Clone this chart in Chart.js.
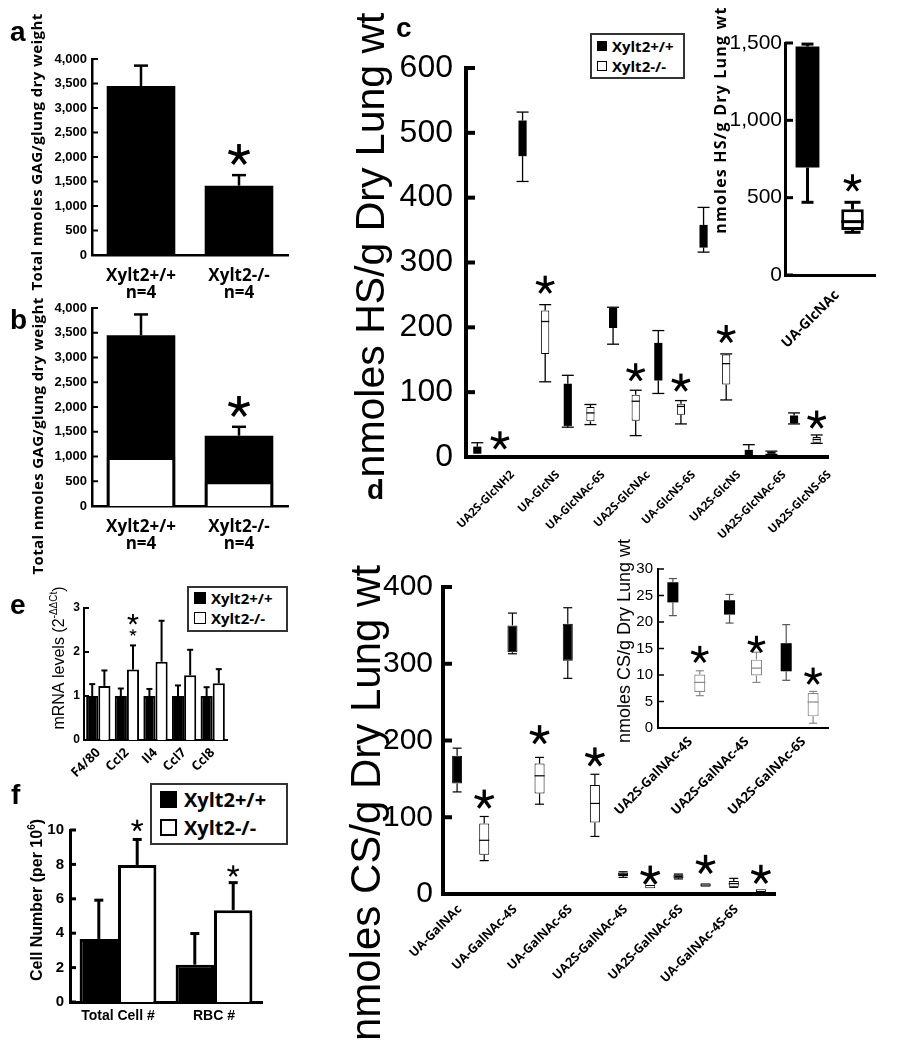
<!DOCTYPE html>
<html>
<head>
<meta charset="utf-8">
<script src="https://cdn.jsdelivr.net/npm/chart.js@4.4.1/dist/chart.umd.min.js"></script>
<style>
  body { margin: 0; background: #fff; }
  #page { position: relative; width: 921px; height: 1050px; overflow: hidden; background: #fff; }
  #page canvas { position: absolute; left: 0; top: 0; }
  .letter { position: absolute; font: bold 28px 'Liberation Sans', Arial, sans-serif; line-height: 28px; z-index: 5; }
  .legend { position: absolute; box-sizing: border-box; border: 2px solid #333; background: #fff;
            font-family: 'Open Sans', sans-serif; font-weight: 700; z-index: 5; }
  .legend .row { display: flex; align-items: center; white-space: nowrap; }
  .legend .sw { display: inline-block; box-sizing: border-box; border: 1.5px solid #000; background: #fff; }
</style>
</head>
<body>
<div id="page">
  <div class="letter" style="left:10px;top:18px;">a</div>
  <div class="letter" style="left:10px;top:306px;">b</div>
  <div class="letter" style="left:396px;top:14px;">c</div>
  <div class="letter" style="left:367px;top:476px;">d</div>
  <div class="letter" style="left:10px;top:591px;">e</div>
  <div class="letter" style="left:11px;top:781px;">f</div>

  <div class="legend" style="left:590px;top:33px;width:95px;height:46px;font-size:15px;padding-top:1px;">
    <div class="row" style="height:20px;"><span class="sw" style="width:10px;height:10px;margin:0 5px 0 5px;background:#000;"></span>Xylt2+/+</div>
    <div class="row" style="height:20px;"><span class="sw" style="width:10px;height:10px;margin:0 5px 0 5px;"></span>Xylt2-/-</div>
  </div>
  <div class="legend" style="left:187px;top:586px;width:101px;height:46px;font-size:15px;">
    <div class="row" style="height:20px;"><span class="sw" style="width:12px;height:12px;margin:0 5px 0 5px;background:#000;"></span>Xylt2+/+</div>
    <div class="row" style="height:20px;"><span class="sw" style="width:12px;height:12px;margin:0 5px 0 5px;"></span>Xylt2-/-</div>
  </div>
  <div class="legend" style="left:150px;top:783px;width:138px;height:62px;font-size:20px;">
    <div class="row" style="height:28px;"><span class="sw" style="width:17px;height:17px;margin:0 7px 0 8px;background:#000;border-width:2px;"></span>Xylt2+/+</div>
    <div class="row" style="height:28px;"><span class="sw" style="width:17px;height:17px;margin:0 7px 0 8px;border-width:2px;"></span>Xylt2-/-</div>
  </div>
</div>

<script>
// ---- datos ----

// a y b: GAG total
const GENOTYPE_LABELS = [['Xylt2+/+', 'n=4'], ['Xylt2-/-', 'n=4']];
const GAG_TICKS = [0, 500, 1000, 1500, 2000, 2500, 3000, 3500, 4000];
const GAG_TOTAL_A = [3450, 1415];
const GAG_ERR_A = [3865, 1630];
const GAG_STAR_A = [null, 2040];
const GAG_TOTAL_B = [3450, 1420];
const GAG_ERR_B = [3870, 1600];
const GAG_WHITE_B = [990, 500];
const GAG_STAR_B = [null, 2000];

// c: HS disacaridos
const HS_CATS = ['UA2S-GlcNH2', 'UA-GlcNS', 'UA-GlcNAc-6S', 'UA2S-GlcNAc', 'UA-GlcNS-6S', 'UA2S-GlcNS', 'UA2S-GlcNAc-6S', 'UA2S-GlcNS-6S'];
const HS_TICKS = [0, 100, 200, 300, 400, 500, 600];
const HS_WT_BOX = [[5, 16], [464, 519], [48, 113], [199, 230], [118, 176], [323, 358], [0, 11], [52, 64]];
const HS_WT_WHISK = [[5, 22], [425, 532], [46, 126], [174, 231], [98, 195], [316, 385], [0, 19], [51, 68]];
const HS_KO_BOX = [null, [159, 226], [55, 77], [56, 96], [65, 82], [112, 158], [5, 8], [22, 31]];
const HS_KO_MED = [null, 209, 68, 86, 78, 144, 6.5, 27];
const HS_KO_WHISK = [null, [116, 235], [50, 81], [33, 103], [51, 87], [88, 159], [4, 9], [21, 34]];
const HS_KO_STAR = [25, 265, null, 130, 114, 189, null, 57];

// c (inserto): UA-GlcNAc
const HS_INSET_CATS = ['UA-GlcNAc'];
const HS_INSET_TICKS = [0, 500, 1000, 1500];
const HS_INSET_WT_BOX = [[695, 1478]];
const HS_INSET_WT_WHISK = [[470, 1493]];
const HS_INSET_KO_BOX = [[291, 425]];
const HS_INSET_KO_MED = [345];
const HS_INSET_KO_WHISK = [[276, 470]];
const HS_INSET_KO_STAR = [593];

// d: CS disacaridos
const CS_CATS = ['UA-GalNAc', 'UA-GalNAc-4S', 'UA-GalNAc-6S', 'UA2S-GalNAc-4S', 'UA2S-GalNAc-6S', 'UA-GalNAc-4S-6S'];
const CS_TICKS = [0, 50, 100, 150, 200, 250, 300, 350, 400];
const CS_WT_BOX = [[144, 180], [315, 350], [304, 352], [23.5, 28], [20.5, 25.5], [9.6, 17]];
const CS_WT_MED = [null, null, null, null, null, 13.5];
const CS_WT_WHISK = [[133, 190], [313, 366], [281, 373], [21.7, 29], [19.6, 26], [8.7, 20.4]];
const CS_KO_BOX = [[51, 92], [131, 170], [93, 142], [7.4, 11.7], [9.6, 14], [2.6, 6.1]];
const CS_KO_MED = [70, 154, 118, null, 11.7, null];
const CS_KO_WHISK = [[43.5, 101], [117, 178], [75, 156], [7.4, 11.7], [9.6, 14], [2.6, 6.1]];
const CS_KO_STAR = [123, 207, 178, 24, 38, 25];

// d (inserto)
const CS_INSET_CATS = ['UA2S-GalNAc-4S', 'UA2S-GalNAc-4S', 'UA2S-GalNAc-6S'];
const CS_INSET_TICKS = [0, 5, 10, 15, 20, 25, 30];
const CS_INSET_WT_BOX = [[23.7, 27.5], [21.4, 24.1], [10.7, 16]];
const CS_INSET_WT_WHISK = [[21.2, 28.2], [19.8, 25.2], [9, 19.5]];
const CS_INSET_KO_BOX = [[6.8, 10.1], [9.9, 12.9], [2.2, 6.6]];
const CS_INSET_KO_MED = [8.6, 11.3, 4.9];
const CS_INSET_KO_WHISK = [[6.1, 10.8], [8.6, 14.3], [0.9, 6.9]];
const CS_INSET_KO_STAR = [13.8, 15.7, 9.7];

// e: mRNA
const MRNA_GENES = ['F4/80', 'Ccl2', 'Il4', 'Ccl7', 'Ccl8'];
const MRNA_TICKS = [0, 1, 2, 3];
const MRNA_WT = [1, 1, 1, 1, 1];
const MRNA_WT_ERR = [1.27, 1.17, 1.16, 1.24, 1.2];
const MRNA_KO = [1.23, 1.6, 1.78, 1.47, 1.29];
const MRNA_KO_ERR = [1.58, 2.15, 2.71, 2.05, 1.61];
const MRNA_KO_STAR = [null, 2.74, null, null, null];
const MRNA_KO_STAR_SMALL = [null, 2.44, null, null, null];

// f: recuento celular
const CELL_CATS = ['Total Cell #', 'RBC #'];
const CELL_TICKS = [0, 2, 4, 6, 8, 10];
const CELL_WT = [3.67, 2.17];
const CELL_WT_ERR = [5.92, 3.98];
const CELL_KO = [7.97, 5.34];
const CELL_KO_ERR = [9.45, 6.94];
const CELL_KO_STAR = [10.25, 7.6];

// ---- configuracion general ----
const PAGE_W = 921;
const PAGE_H = 1050;

Chart.defaults.animation = false;
Chart.defaults.color = '#000';
Chart.defaults.font.family = "'Liberation Sans', Arial, sans-serif";
Chart.defaults.plugins.legend.display = false;
Chart.defaults.plugins.tooltip.enabled = false;
Chart.defaults.events = [];

// asterisco de significancia
function drawStar(ctx, x, y, size) {
    const r = size / 2;
    ctx.save();
    ctx.strokeStyle = '#000';
    ctx.lineWidth = Math.max(1.2, size * 0.17);
    for (let k = 0; k < 5; k++) {
        const a = -Math.PI / 2 + k * Math.PI * 2 / 5;
        ctx.beginPath();
        ctx.moveTo(x, y);
        ctx.lineTo(x + r * Math.cos(a), y + r * Math.sin(a));
        ctx.stroke();
    }
    ctx.restore();
}

// bigotes, medianas, barras de error y asteriscos
const marksPlugin = {
    id: 'marks',
    afterDatasetsDraw(chart) {
        const ctx = chart.ctx;
        const ys = chart.scales.y;
        const py = v => ys.getPixelForValue(v);
        chart.data.datasets.forEach((ds, i) => {
            const meta = chart.getDatasetMeta(i);
            meta.data.forEach((bar, j) => {
                const x = bar.x;
                const cap = ds.capWidth || 8;
                const box = ds.data[j];
                ctx.save();
                ctx.strokeStyle = ds.markColor || '#000';
                ctx.lineWidth = ds.markWidth || 1;
                const seg = (x1, y1, x2, y2) => {
                    ctx.beginPath();
                    ctx.moveTo(x1, y1);
                    ctx.lineTo(x2, y2);
                    ctx.stroke();
                };
                if (ds.whisk && ds.whisk[j] && box) {
                    const [lo, hi] = ds.whisk[j];
                    if (hi > box[1]) {
                        seg(x, py(box[1]), x, py(hi));
                        seg(x - cap / 2, py(hi), x + cap / 2, py(hi));
                    }
                    if (lo < box[0]) {
                        seg(x, py(box[0]), x, py(lo));
                        seg(x - cap / 2, py(lo), x + cap / 2, py(lo));
                    }
                }
                if (ds.median && ds.median[j] != null) {
                    const ym = py(ds.median[j]);
                    seg(x - bar.width / 2, ym, x + bar.width / 2, ym);
                }
                if (ds.err && ds.err[j] != null) {
                    seg(x, py(box), x, py(ds.err[j]));
                    seg(x - cap / 2, py(ds.err[j]), x + cap / 2, py(ds.err[j]));
                }
                ctx.restore();
                if (ds.stars && ds.stars[j] != null) drawStar(ctx, x, py(ds.stars[j]), ds.starSize || 16);
                if (ds.smallStars && ds.smallStars[j] != null) drawStar(ctx, x, py(ds.smallStars[j]), ds.smallStarSize || 8);
            });
        });
    }
};

// titulo vertical con partes (superindices)
const vtitlePlugin = {
    id: 'vtitle',
    afterDraw(chart, args, opts) {
        const parts = opts.parts;
        if (!parts) return;
        const ctx = chart.ctx;
        ctx.save();
        ctx.translate(opts.x, opts.y);
        ctx.rotate(-Math.PI / 2);
        ctx.fillStyle = '#000';
        ctx.textBaseline = 'alphabetic';
        ctx.textAlign = 'left';
        if (opts.spacing && 'letterSpacing' in ctx) ctx.letterSpacing = opts.spacing + 'px';
        const widths = parts.map(p => { ctx.font = p.f; return ctx.measureText(p.t).width; });
        let cx = -widths.reduce((s, w) => s + w, 0) / 2;
        parts.forEach((p, k) => {
            ctx.font = p.f;
            ctx.fillText(p.t, cx, p.dy || 0);
            cx += widths[k];
        });
        ctx.restore();
    }
};

// marcas de eje hacia adentro
const inticksPlugin = {
    id: 'inticks',
    afterDraw(chart, args, opts) {
        if (!opts.len) return;
        const ctx = chart.ctx;
        const ys = chart.scales.y;
        const x0 = chart.chartArea.left;
        ctx.save();
        ctx.strokeStyle = '#000';
        ctx.lineWidth = opts.width || 2;
        ys.ticks.forEach(t => {
            const p = ys.getPixelForValue(t.value);
            ctx.beginPath();
            ctx.moveTo(x0, p);
            ctx.lineTo(x0 + opts.len, p);
            ctx.stroke();
        });
        ctx.restore();
    }
};

Chart.register(marksPlugin, vtitlePlugin, inticksPlugin);

function addCanvas() {
    const c = document.createElement('canvas');
    c.width = PAGE_W;
    c.height = PAGE_H;
    document.getElementById('page').appendChild(c);
    return c;
}

// cada panel ocupa toda la pagina; el area del grafico se fija con padding y afterFit
function buildChart(o) {
    return new Chart(addCanvas(), {
        type: 'bar',
        data: { labels: o.labels, datasets: o.datasets },
        options: {
            responsive: false,
            locale: 'en-US',
            layout: { padding: { left: 0, top: o.rect.top, right: PAGE_W - o.rect.right, bottom: 0 } },
            scales: {
                x: {
                    offset: true,
                    grid: { display: false, drawTicks: false },
                    border: { display: true, color: '#000', width: o.axisWidth },
                    ticks: {
                        autoSkip: false,
                        minRotation: o.rot || 0,
                        maxRotation: o.rot || 0,
                        padding: o.xPad,
                        labelOffset: o.xShift || 0,
                        font: o.xFont,
                        color: '#000'
                    },
                    afterFit: s => { s.height = PAGE_H - o.rect.bottom; }
                },
                y: {
                    min: o.ticks[0],
                    max: o.ticks[o.ticks.length - 1],
                    grid: { display: false, drawTicks: false },
                    border: { display: true, color: '#000', width: o.axisWidth },
                    ticks: { padding: o.yPad, font: o.yFont, color: '#000' },
                    afterBuildTicks: s => { s.ticks = o.ticks.map(v => ({ value: v })); },
                    afterFit: s => { s.width = o.rect.left; }
                }
            },
            plugins: {
                vtitle: o.title,
                inticks: { len: o.tickLen, width: o.tickWidth }
            }
        }
    });
}

const MYRIAD = "'Open Sans', sans-serif";
const HELV = "'Liberation Sans', Arial, sans-serif";

// ---- panel a ----
buildChart({
    rect: { left: 92, right: 288, top: 59, bottom: 255 },
    labels: GENOTYPE_LABELS,
    ticks: GAG_TICKS,
    axisWidth: 2.5, tickLen: 6, tickWidth: 2,
    yPad: 5, yFont: { family: HELV, weight: 'bold', size: 13 },
    xPad: 13, xFont: { family: MYRIAD, weight: 'bold', size: 17, lineHeight: 1.0 },
    title: { x: 42, y: 152, spacing: 0.4, parts: [{ t: 'Total nmoles GAG/glung dry weight', f: "bold 15px 'Open Sans'" }] },
    datasets: [{
        data: GAG_TOTAL_A, backgroundColor: '#000', borderWidth: 0,
        categoryPercentage: 1, barPercentage: 0.7,
        err: GAG_ERR_A, capWidth: 14, markWidth: 2.5,
        stars: GAG_STAR_A, starSize: 22
    }]
});

// ---- panel b ----
buildChart({
    rect: { left: 92, right: 288, top: 308, bottom: 506 },
    labels: GENOTYPE_LABELS,
    ticks: GAG_TICKS,
    axisWidth: 2.5, tickLen: 6, tickWidth: 2,
    yPad: 5, yFont: { family: HELV, weight: 'bold', size: 13 },
    xPad: 13, xFont: { family: MYRIAD, weight: 'bold', size: 17, lineHeight: 1.0 },
    title: { x: 43, y: 436, spacing: 0.4, parts: [{ t: 'Total nmoles GAG/glung dry weight', f: "bold 15px 'Open Sans'" }] },
    datasets: [{
        data: GAG_WHITE_B, backgroundColor: '#fff', borderColor: '#000', borderWidth: 3,
        grouped: false, order: 0, categoryPercentage: 1, barPercentage: 0.7
    }, {
        data: GAG_TOTAL_B, backgroundColor: '#000', borderWidth: 0,
        grouped: false, order: 1, categoryPercentage: 1, barPercentage: 0.7,
        err: GAG_ERR_B, capWidth: 14, markWidth: 2.5,
        stars: GAG_STAR_B, starSize: 22
    }]
});

// ---- panel c ----
buildChart({
    rect: { left: 466, right: 828, top: 68, bottom: 457 },
    labels: HS_CATS,
    ticks: HS_TICKS,
    axisWidth: 4, tickLen: 9, tickWidth: 4,
    yPad: 13, yFont: { family: HELV, size: 32 },
    rot: 45, xPad: 11, xShift: 24, xFont: { family: MYRIAD, weight: 'bold', size: 11.5 },
    title: { x: 384, y: 245, parts: [{ t: 'nmoles HS/g Dry Lung wt', f: "41px 'Liberation Sans'" }] },
    datasets: [{
        data: HS_WT_BOX, backgroundColor: '#000', borderWidth: 0,
        categoryPercentage: 1, barPercentage: 0.36,
        whisk: HS_WT_WHISK, capWidth: 12, markWidth: 1.3
    }, {
        data: HS_KO_BOX, backgroundColor: '#fff', borderColor: '#000', borderWidth: 1, borderSkipped: false,
        categoryPercentage: 1, barPercentage: 0.36,
        median: HS_KO_MED, whisk: HS_KO_WHISK, capWidth: 12, markWidth: 1.3,
        stars: HS_KO_STAR, starSize: 19
    }]
});

// ---- panel c, inserto ----
buildChart({
    rect: { left: 785, right: 875, top: 43, bottom: 275 },
    labels: HS_INSET_CATS,
    ticks: HS_INSET_TICKS,
    axisWidth: 3, tickLen: 8, tickWidth: 3,
    yPad: 3, yFont: { family: HELV, size: 21 },
    rot: 45, xPad: 12, xShift: 7, xFont: { family: MYRIAD, weight: 'bold', size: 14 },
    title: { x: 726, y: 120, spacing: 1.2, parts: [{ t: 'nmoles HS/g Dry Lung wt', f: "bold 16px 'Open Sans'" }] },
    datasets: [{
        data: HS_INSET_WT_BOX, backgroundColor: '#000', borderWidth: 0,
        categoryPercentage: 1, barPercentage: 0.53,
        whisk: HS_INSET_WT_WHISK, capWidth: 12, markWidth: 3
    }, {
        data: HS_INSET_KO_BOX, backgroundColor: '#fff', borderColor: '#000', borderWidth: 3, borderSkipped: false,
        categoryPercentage: 1, barPercentage: 0.5,
        median: HS_INSET_KO_MED, whisk: HS_INSET_KO_WHISK, capWidth: 16, markWidth: 3,
        stars: HS_INSET_KO_STAR, starSize: 18
    }]
});

// ---- panel d ----
buildChart({
    rect: { left: 443, right: 775, top: 587, bottom: 894 },
    labels: CS_CATS,
    ticks: CS_TICKS,
    axisWidth: 4, tickLen: 9, tickWidth: 4,
    yPad: 10, yFont: { family: HELV, size: 30 },
    rot: 45, xPad: 8, xShift: -11, xFont: { family: MYRIAD, weight: 'bold', size: 12.5 },
    title: { x: 380, y: 803, parts: [{ t: 'nmoles CS/g Dry Lung wt', f: "42px 'Liberation Sans'" }] },
    datasets: [{
        data: CS_WT_BOX,
        backgroundColor: c => (c.dataIndex === 5 ? '#fff' : '#000'),
        borderColor: '#000', borderWidth: 1, borderSkipped: false,
        categoryPercentage: 0.98, barPercentage: 0.37,
        median: CS_WT_MED, whisk: CS_WT_WHISK, capWidth: 9, markWidth: 1.2
    }, {
        data: CS_KO_BOX, backgroundColor: '#fff', borderColor: '#000', borderWidth: 1, borderSkipped: false,
        categoryPercentage: 0.98, barPercentage: 0.37,
        median: CS_KO_MED, whisk: CS_KO_WHISK, capWidth: 9, markWidth: 1.2,
        stars: CS_KO_STAR, starSize: 20
    }]
});

// ---- panel d, inserto ----
buildChart({
    rect: { left: 658, right: 828, top: 569, bottom: 728 },
    labels: CS_INSET_CATS,
    ticks: CS_INSET_TICKS,
    axisWidth: 2, tickLen: 6, tickWidth: 1.5,
    yPad: 5, yFont: { family: HELV, size: 15 },
    rot: 45, xPad: 6, xShift: 4, xFont: { family: MYRIAD, weight: 'bold', size: 13 },
    title: { x: 630, y: 641, parts: [{ t: 'nmoles CS/g Dry Lung wt', f: "18px 'Liberation Sans'" }] },
    datasets: [{
        data: CS_INSET_WT_BOX, backgroundColor: '#000', borderWidth: 0,
        categoryPercentage: 0.95, barPercentage: 0.41,
        whisk: CS_INSET_WT_WHISK, capWidth: 8, markWidth: 1.2, markColor: '#555'
    }, {
        data: CS_INSET_KO_BOX, backgroundColor: '#fff', borderColor: '#888', borderWidth: 1.2, borderSkipped: false,
        categoryPercentage: 0.95, barPercentage: 0.41,
        median: CS_INSET_KO_MED, whisk: CS_INSET_KO_WHISK, capWidth: 8, markWidth: 1.2, markColor: '#888',
        stars: CS_INSET_KO_STAR, starSize: 18
    }]
});

// ---- panel e ----
buildChart({
    rect: { left: 84, right: 227, top: 608, bottom: 740 },
    labels: MRNA_GENES,
    ticks: MRNA_TICKS,
    axisWidth: 2, tickLen: 5, tickWidth: 2,
    yPad: 4, yFont: { family: HELV, weight: 'bold', size: 12 },
    rot: 45, xPad: 5, xShift: 0, xFont: { family: MYRIAD, weight: 'bold', size: 13 },
    title: {
        x: 64, y: 658,
        parts: [
            { t: 'mRNA levels (2', f: "16px 'Liberation Sans'" },
            { t: '-ΔΔCt', f: "10px 'Liberation Sans'", dy: -7 },
            { t: ')', f: "16px 'Liberation Sans'" }
        ]
    },
    datasets: [{
        data: MRNA_WT, backgroundColor: '#000', borderColor: '#000', borderWidth: 2,
        categoryPercentage: 0.85, barPercentage: 1,
        err: MRNA_WT_ERR, capWidth: 6, markWidth: 2
    }, {
        data: MRNA_KO, backgroundColor: '#fff', borderColor: '#000', borderWidth: 2,
        categoryPercentage: 0.85, barPercentage: 1,
        err: MRNA_KO_ERR, capWidth: 6, markWidth: 2,
        stars: MRNA_KO_STAR, starSize: 11,
        smallStars: MRNA_KO_STAR_SMALL, smallStarSize: 7
    }]
});

// ---- panel f ----
buildChart({
    rect: { left: 70, right: 262, top: 830, bottom: 1002 },
    labels: CELL_CATS,
    ticks: CELL_TICKS,
    axisWidth: 3, tickLen: 6, tickWidth: 3,
    yPad: 6, yFont: { family: HELV, weight: 'bold', size: 15 },
    xPad: 6, xFont: { family: HELV, weight: 'bold', size: 14 },
    title: {
        x: 42, y: 900,
        parts: [
            { t: 'Cell Number (per 10', f: "bold 16px 'Liberation Sans'" },
            { t: '6', f: "bold 10px 'Liberation Sans'", dy: -7 },
            { t: ')', f: "bold 16px 'Liberation Sans'" }
        ]
    },
    datasets: [{
        data: CELL_WT, backgroundColor: '#000', borderColor: '#000', borderWidth: 3,
        categoryPercentage: 0.8, barPercentage: 1,
        err: CELL_WT_ERR, capWidth: 9, markWidth: 3
    }, {
        data: CELL_KO, backgroundColor: '#fff', borderColor: '#000', borderWidth: 3,
        categoryPercentage: 0.8, barPercentage: 1,
        err: CELL_KO_ERR, capWidth: 9, markWidth: 3,
        stars: CELL_KO_STAR, starSize: 12
    }]
});
</script>
</body>
</html>
